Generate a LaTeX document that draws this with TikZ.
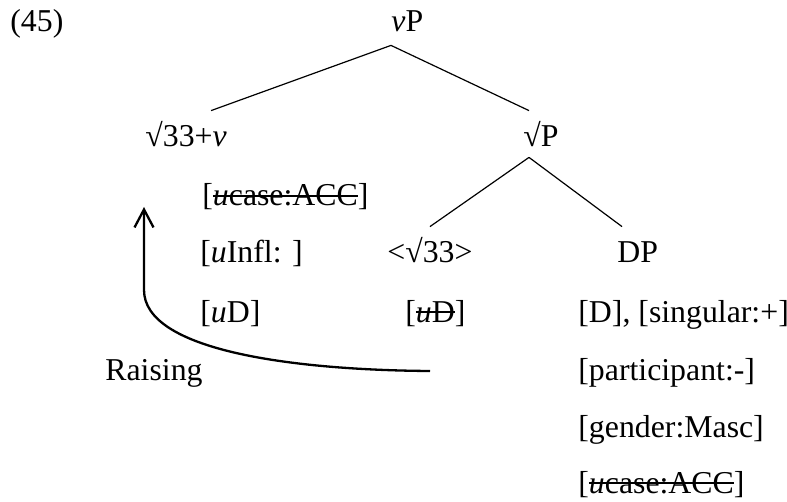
\documentclass[tikz,border=0pt]{standalone}
\usepackage{fontspec}
\setmainfont{Liberation Serif}
\usetikzlibrary{calc,arrows.meta}

\newsavebox{\strikeBox}
\newcommand{\strike}[1]{\sbox{\strikeBox}{#1}\rlap{\usebox{\strikeBox}}\rule[0.28em]{\wd\strikeBox}{0.8pt}}
\newcommand{\treeThick }{0.6pt}
\newcommand{\moveThick }{1.15pt}
\newcommand{\rowTop   }{32}
\newcommand{\rowOne   }{147}
\newcommand{\rowTwo   }{206}
\newcommand{\rowThree }{263}
\newcommand{\rowFour  }{322}
\newcommand{\rowFive  }{380}
\newcommand{\rowSix   }{437}
\newcommand{\rowSeven }{493}
\newcommand{\featX    }{578}

\tikzset{
  lbl/.style={font=\fontsize{15.9}{18}\selectfont, inner sep=0pt, anchor=base west},
  cat/.style={lbl, text height=18pt, text depth=5.5pt},
}

\begin{document}
\begin{tikzpicture}[x=0.5pt, y=-0.5pt]

  \useasboundingbox (0,0) rectangle (787,502);

  % Labels:
  \node[lbl] (exnum)   at (10,  \rowTop  ) {(45)};
  \node[cat] (vP)      at (391, \rowTop  ) {\textit{v}P};
  \node[cat] (rootv)   at (145, \rowOne  ) {√33+\textit{v}};
  \node[cat] (rootP)   at (523, \rowOne  ) {√P};
  \node[lbl] (caseL)   at (202, \rowTwo  ) {[\strike{\textit{u}case:ACC}]};
  \node[lbl] (infl)    at (200, \rowThree) {[\textit{u}Infl: ]};
  \node[cat] (copy)    at (387, \rowThree) {<√33>};
  \node[cat] (DP)      at (617, \rowThree) {DP};
  \node[lbl] (uDL)     at (200, \rowFour ) {[\textit{u}D]};
  \node[lbl] (uDC)     at (405, \rowFour ) {[\strike{\textit{u}D}]};
  \node[lbl] (sing)    at (\featX, \rowFour ) {[D], [singular:+]};
  \node[lbl] (raising) at (105, \rowFive ) {Raising};
  \node[lbl] (part)    at (\featX, \rowFive ) {[participant:-]};
  \node[lbl] (gender)  at (\featX, \rowSix  ) {[gender:Masc]};
  \node[lbl] (caseR)   at (\featX, \rowSeven) {[\strike{\textit{u}case:ACC}]};

  % Tree lines:
  \draw[line width= \treeThick] ($(vP.south west)+(0,2)$)     -- ($(rootv.north)+(25,0)$);
  \draw[line width= \treeThick] ($(vP.south west)+(0,2)$)     -- ($(rootP.north west)+(6,0)$);
  \draw[line width= \treeThick] ($(rootP.south west)+(6,-1)$) -- (copy.north);
  \draw[line width= \treeThick] ($(rootP.south west)+(6,-1)$) -- ($(DP.north west)+(5,0)$);

  % Movement arrow:
  \coordinate (moveFrom) at (430, 371);
  \coordinate (moveTo)   at (144, 207);
  \draw[line width= \moveThick, -{Straight Barb[length=9pt, width=9.5pt]}]
    (moveFrom) .. controls (290,370) and (144,350) .. (144,290) -- (moveTo);

\end{tikzpicture}
\end{document}
